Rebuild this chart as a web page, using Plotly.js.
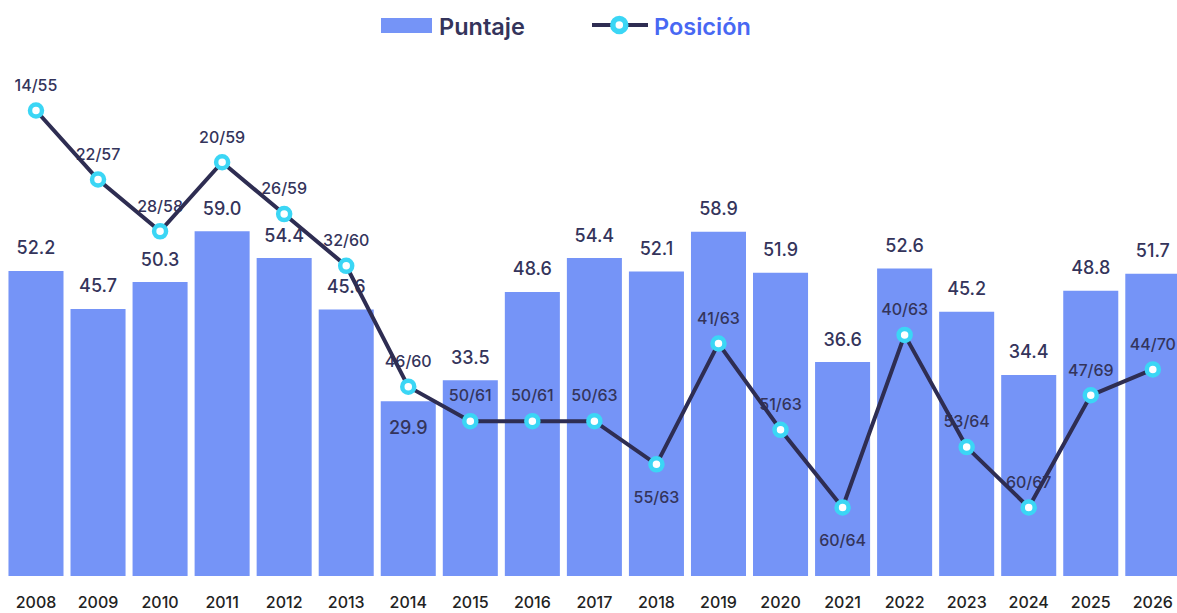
<!DOCTYPE html>
<html>
<head>
<meta charset="utf-8">
<script src="https://cdn.plot.ly/plotly-3.0.1.min.js"></script>
<style>html,body{margin:0;padding:0;background:#fff;}#chart{width:1177px;height:613px;}</style>
</head>
<body>
<div id="chart"></div>
<script>
// ---- data ----
const years = ['2008','2009','2010','2011','2012','2013','2014','2015','2016','2017','2018','2019','2020','2021','2022','2023','2024','2025','2026'];
const puntaje = [52.2,45.7,50.3,59.0,54.4,45.6,29.9,33.5,48.6,54.4,52.1,58.9,51.9,36.6,52.6,45.2,34.4,48.8,51.7];
const rank = [14,22,28,20,26,32,46,50,50,50,55,41,51,60,40,53,60,47,44];
const total = [55,57,58,59,59,60,60,61,61,63,63,63,63,64,63,64,67,69,70];
const seriesNames = ['Puntaje','Posición'];

// ---- label placement (style) ----
const barLabelBelow = [6];          // indices whose score label sits inside the bar
const rankLabelBelow = [10, 13];    // indices whose rank label sits below the marker

const NAVY = '#34345b';
const LINE = '#2e2d52';
const BAR = '#7594f7';
const CYAN = '#3bd6f5';
const BLUE = '#4868f3';
const FONT = 'Inter, "Noto Sans", sans-serif';

const barText = puntaje.map(v => v.toFixed(1));
const barPos = puntaje.map((v,i) => barLabelBelow.includes(i) ? 'bottom center' : 'top center');
const barGap = puntaje.map((v,i) => barLabelBelow.includes(i) ? 29.8 : 17.6);

const rankText = rank.map((r,i) => r + '/' + total[i]);
const rankPos = rank.map((r,i) => rankLabelBelow.includes(i) ? 'bottom center' : 'top center');
const rankGap = rank.map((r,i) => rankLabelBelow.includes(i) ? 41 : 23.5);

const traces = [
  {
    type: 'bar', x: years, y: puntaje, name: seriesNames[0],
    marker: {color: BAR, line: {width: 0}},
    hoverinfo: 'skip', xaxis: 'x', yaxis: 'y'
  },
  {
    type: 'scatter', mode: 'markers+text', x: years, y: puntaje,
    text: barText, textposition: barPos,
    marker: {size: barGap, color: 'rgba(0,0,0,0)', opacity: 0, line: {width: 0, color: 'rgba(0,0,0,0)'}},
    textfont: {family: FONT, size: 18, color: NAVY, weight: 500},
    cliponaxis: false, hoverinfo: 'skip', showlegend: false, xaxis: 'x', yaxis: 'y'
  },
  {
    type: 'scatter', mode: 'markers+text', x: years, y: rank,
    text: rankText, textposition: rankPos,
    marker: {size: rankGap, color: 'rgba(0,0,0,0)', opacity: 0, line: {width: 0, color: 'rgba(0,0,0,0)'}},
    textfont: {family: FONT, size: 16, color: NAVY, weight: 500},
    cliponaxis: false, hoverinfo: 'skip', showlegend: false, xaxis: 'x', yaxis: 'y2'
  },
  {
    type: 'scatter', mode: 'lines+markers', x: years, y: rank, name: seriesNames[1],
    line: {color: LINE, width: 4},
    marker: {size: 12, color: '#ffffff', line: {color: CYAN, width: 4.5}},
    cliponaxis: false, hoverinfo: 'skip', xaxis: 'x', yaxis: 'y2'
  }
];

// custom legend geometry (pixels -> paper)
const W = 1177, PT = 50, PB = 576, PH = PB - PT;
const px = v => v / W;
const py = v => (PB - v) / PH;

const layout = {
  width: 1177, height: 613,
  margin: {l: 0, r: 0, t: PT, b: 613 - PB, pad: 0},
  paper_bgcolor: '#ffffff', plot_bgcolor: '#ffffff',
  showlegend: false,
  bargap: 0.113,
  xaxis: {
    type: 'category', range: [-0.58, 18.39],
    showgrid: false, zeroline: false, showline: false, ticks: '',
    tickfont: {family: FONT, size: 16, color: '#222222', weight: 500},
    ticklabelstandoff: 15, fixedrange: true
  },
  yaxis: {range: [0, 90], visible: false, fixedrange: true},
  yaxis2: {range: [67.94, 6.99], overlaying: 'y', visible: false, fixedrange: true},
  shapes: [
    {type: 'rect', xref: 'paper', yref: 'paper', x0: px(381), x1: px(432), y0: py(33), y1: py(18),
     fillcolor: BAR, line: {width: 0}},
    {type: 'line', xref: 'paper', yref: 'paper', x0: px(592), x1: px(648), y0: py(25), y1: py(25),
     line: {color: LINE, width: 4}},
    {type: 'circle', xref: 'paper', yref: 'paper', x0: px(619.3 - 6.5), x1: px(619.3 + 6.5), y0: py(25 + 6.5), y1: py(25 - 6.5),
     fillcolor: '#ffffff', line: {color: CYAN, width: 5.5}}
  ],
  annotations: [
    {xref: 'paper', yref: 'paper', x: px(437), y: py(26), xanchor: 'left', yanchor: 'middle', showarrow: false,
     text: seriesNames[0], font: {family: FONT, size: 23.5, color: NAVY, weight: 600}},
    {xref: 'paper', yref: 'paper', x: px(652), y: py(26), xanchor: 'left', yanchor: 'middle', showarrow: false,
     text: seriesNames[1], font: {family: FONT, size: 23.5, color: BLUE, weight: 600}}
  ]
};

Plotly.newPlot('chart', traces, layout, {displayModeBar: false, staticPlot: true});
</script>
</body>
</html>
